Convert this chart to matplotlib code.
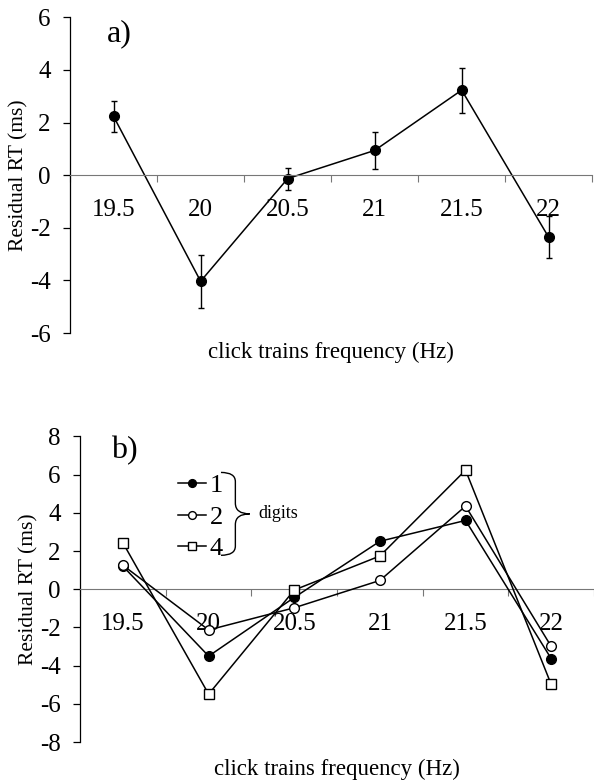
import matplotlib.pyplot as plt
import numpy as np
from matplotlib.path import Path
from matplotlib.patches import PathPatch

plt.rcParams['font.family'] = ['Liberation Serif', 'DejaVu Serif']

freqs = ['19.5', '20', '20.5', '21', '21.5', '22']

# a) mean residual RT with error bars
rt_mean = [2.23, -4.03, -0.13, 0.94, 3.23, -2.36]
rt_err = [0.58, 1.0, 0.42, 0.7, 0.85, 0.8]

# b) residual RT by number of digits
rt_d1 = [1.2, -3.5, -0.43, 2.51, 3.6, -3.63]
rt_d2 = [1.25, -2.13, -0.97, 0.46, 4.35, -2.99]
rt_d4 = [2.42, -5.49, -0.04, 1.74, 6.23, -4.98]

x = np.arange(len(freqs))

fig = plt.figure(figsize=(5.94, 7.82), dpi=100)
ax1 = fig.add_axes([0.118, 0.574, 0.879, 0.404])
ax2 = fig.add_axes([0.135, 0.051, 0.865, 0.391])


def style_axis(ax, ylim, yticks, label_x):
    ax.set_xlim(-0.5, len(freqs) - 0.5)
    ax.set_ylim(*ylim)
    ax.set_yticks(yticks)
    ax.set_yticklabels([str(t) for t in yticks], fontsize=18)
    for s in ['top', 'right']:
        ax.spines[s].set_visible(False)
    ax.spines['bottom'].set_position(('data', 0))
    ax.spines['bottom'].set_color('#777777')
    ax.spines['bottom'].set_linewidth(0.8)
    ax.spines['left'].set_linewidth(0.9)
    # boundary ticks on the zero line, category labels centred below
    ax.set_xticks(np.arange(-0.5, len(freqs)), minor=False)
    ax.set_xticklabels([])
    ax.tick_params(axis='x', which='major', length=5, direction='out',
                   color='#777777', width=0.8)
    ax.set_xticks(x, minor=True)
    ax.set_xticklabels(freqs, minor=True, fontsize=18)
    ax.tick_params(axis='x', which='minor', length=0, pad=17)
    ax.tick_params(axis='y', length=5, width=0.9, pad=9)
    ax.set_ylabel('Residual RT (ms)', fontsize=15.5)
    ax.yaxis.set_label_coords(label_x, 0.5)


style_axis(ax1, (-6, 6), [-6, -4, -2, 0, 2, 4, 6], -0.08)
ax1.errorbar(x, rt_mean, yerr=rt_err, color='black', lw=1.1, marker='o',
             ms=7, elinewidth=1, capsize=2.5, capthick=1)
ax1.text(0.07, 0.995, 'a)', transform=ax1.transAxes, fontsize=23,
         va='top', ha='left')
ax1.text(0.5, -0.06, 'click trains frequency (Hz)', transform=ax1.transAxes,
         fontsize=16.5, ha='center', va='center')

style_axis(ax2, (-8, 8), [-8, -6, -4, -2, 0, 2, 4, 6, 8], -0.082)
l1, = ax2.plot(x, rt_d1, color='black', lw=1.1, marker='o', ms=7,
               mfc='black', zorder=3)
l2, = ax2.plot(x, rt_d2, color='black', lw=1.1, marker='o', ms=7,
               mfc='white', zorder=4)
l4, = ax2.plot(x, rt_d4, color='black', lw=1.1, marker='s', ms=7.5,
               mfc='white', zorder=5)
ax2.text(0.06, 1.0, 'b)', transform=ax2.transAxes, fontsize=23,
         va='top', ha='left')
ax2.text(0.5, -0.09, 'click trains frequency (Hz)', transform=ax2.transAxes,
         fontsize=16.5, ha='center', va='center')

ax2.legend([l1, l2, l4], ['1', '2', '4'], loc='upper left',
           bbox_to_anchor=(0.165, 0.92), frameon=False, fontsize=19,
           handlelength=1.05, handletextpad=0.15, labelspacing=0.3,
           markerscale=0.8, borderpad=0)

# curly brace grouping the legend entries
bx0, bxm, bx1 = 0.274, 0.302, 0.33
by0, by1 = 0.882, 0.611
bym = (by0 + by1) / 2
verts = [(bx0, by0), (bxm, by0), (bxm, by0 - 0.03), (bxm, bym + 0.035),
         (bxm, bym), (bx1, bym), (bx1, bym),
         (bxm, bym), (bxm, bym - 0.035), (bxm, by1 + 0.03),
         (bxm, by1), (bx0, by1)]
codes = [Path.MOVETO, Path.CURVE3, Path.CURVE3, Path.LINETO,
         Path.CURVE3, Path.CURVE3, Path.MOVETO,
         Path.CURVE3, Path.CURVE3, Path.LINETO,
         Path.CURVE3, Path.CURVE3]
ax2.add_patch(PathPatch(Path(verts, codes), fc='none', ec='black', lw=1,
                        transform=ax2.transAxes, clip_on=False))
ax2.text(0.346, bym, 'digits', transform=ax2.transAxes, fontsize=13,
         ha='left', va='center')

fig.savefig('out.png', dpi=100)
